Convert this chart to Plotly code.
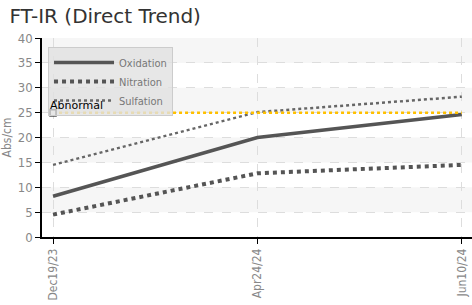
import plotly.graph_objects as go

dates = ["Dec19/23", "Apr24/24", "Jun10/24"]
oxidation = [8.2, 20.0, 24.6]
nitration = [4.5, 12.8, 14.5]
sulfation = [14.5, 25.1, 28.2]
abnormal = [25, 25, 25]
y_ticks = [0, 5, 10, 15, 20, 25, 30, 35, 40]

narrow = "DejaVu Sans Condensed, Liberation Sans Narrow, sans-serif"
fig = go.Figure()

fig.add_trace(go.Scatter(x=dates, y=oxidation, name="Oxidation", mode="lines",
                         line=dict(color="#555555", width=3.5)))
fig.add_trace(go.Scatter(x=dates, y=nitration, name="Nitration", mode="lines",
                         line=dict(color="#555555", width=4, dash="dot")))
fig.add_trace(go.Scatter(x=dates, y=sulfation, name="Sulfation", mode="lines",
                         line=dict(color="#666666", width=2.5, dash="dot")))
fig.add_trace(go.Scatter(x=dates, y=abnormal, name="Abnormal", mode="lines",
                         line=dict(color="#FFC000", width=2.5, dash="dot"),
                         showlegend=False))
fig.add_trace(go.Scatter(x=dates[:1], y=abnormal[:1], mode="markers", showlegend=False,
                         marker=dict(symbol="square", size=6, color="white",
                                     line=dict(color="black", width=1.5))))

shapes = []
for lo in [5, 15, 25, 35]:
    shapes.append(dict(type="rect", xref="paper", yref="y", x0=0, x1=1, y0=lo, y1=lo + 5,
                       fillcolor="#f6f6f6", line=dict(width=0), layer="below"))

fig.update_layout(
    width=472, height=305,
    margin=dict(l=42, r=0, t=38, b=68),
    paper_bgcolor="white", plot_bgcolor="white",
    title=dict(text="FT-IR (Direct Trend)", x=0.02, xanchor="left", y=0.97, yanchor="top",
               font=dict(family="DejaVu Sans", size=20, color="#333333")),
    shapes=shapes,
    legend=dict(x=0.014, y=0.955, xanchor="left", yanchor="top",
                bgcolor="rgba(225,225,225,0.8)", bordercolor="#cccccc", borderwidth=1,
                font=dict(family=narrow, size=11, color="#777777"),
                itemwidth=60, tracegroupgap=0),
    annotations=[dict(x=0, y=25, xref="x", yref="y", text="Abnormal", showarrow=False,
                      xanchor="left", yanchor="bottom", xshift=-5, yshift=-1,
                      font=dict(family="DejaVu Sans", size=11, color="black"))],
    xaxis=dict(type="category", range=[-0.054, 2.05], showgrid=True, gridcolor="#dddddd",
               griddash="dash", tickangle=-90, ticks="outside", ticklen=5, tickcolor="black",
               showline=True, linecolor="black", linewidth=1.5,
               tickfont=dict(family=narrow, size=12, color="#888888")),
    yaxis=dict(range=[0, 40], tickvals=y_ticks, showgrid=True, gridcolor="#dddddd",
               griddash="dash", ticks="outside", ticklen=5, tickcolor="black",
               showline=True, linecolor="black", linewidth=1.5, zeroline=False,
               title=dict(text="Abs/cm", standoff=4, font=dict(family=narrow, size=12, color="#888888")),
               tickfont=dict(family=narrow, size=13, color="#888888")),
)

fig.write_html("out.html", config={"displayModeBar": False},
               post_script="document.body.style.margin='0';")
